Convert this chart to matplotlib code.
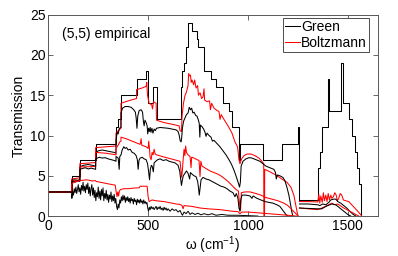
import matplotlib
matplotlib.use("Agg")
import matplotlib.pyplot as plt

plt.rcParams['font.family'] = ['Liberation Sans', 'DejaVu Sans']
plt.rcParams['mathtext.default'] = 'regular'

# ballistic Green transmission: step edges (cm^-1) and levels
green0_x = [0, 117, 158, 237, 339, 350, 364, 442, 490, 497, 525, 542, 667, 672, 680, 690, 700,
            718, 745, 748, 780, 815, 840, 875, 905, 920, 955, 962, 1075, 1172, 1250, 1255,
            1350, 1360, 1372, 1400, 1408, 1468, 1475, 1508, 1520, 1535, 1548, 1556, 1565, 1580]
green0_y = [3, 5, 7, 9, 11, 12, 15, 17, 18, 14, 16, 12, 16, 18, 19, 21, 24,
            23, 22, 21, 18, 17, 16, 14, 13, 11, 7, 9, 7, 9, 11, 2,
            6, 8, 11, 17, 13, 19, 14, 12, 10, 8, 6, 4, 0, 0]

# Boltzmann, shortest length
boltz1_x = [0, 117, 117, 158, 158, 237, 237, 290, 339, 339, 350, 364, 364, 400, 442, 442, 470, 490, 493,
            497, 505, 518, 522, 527, 540, 542, 580, 620, 655, 660, 667, 670, 677, 685, 692, 700, 703,
            708, 712, 716, 720, 728, 733, 740, 748, 752, 760, 768, 775, 780, 783, 795, 808, 812, 818,
            830, 845, 855, 860, 866, 875, 890, 905, 920, 935, 948, 955, 960, 968, 980, 995, 1015, 1035,
            1055, 1070, 1079, 1080, 1083, 1084, 1110, 1140, 1170, 1195, 1215, 1230, 1240, 1248, 1252]
boltz1_y = [3, 3, 4.6, 4.75, 6.5, 6.65, 8.5, 8.6, 8.7, 10.3, 10.6, 10.9, 14.0, 14.3, 14.6, 15.7, 15.9, 16.1, 16.6,
            15.0, 14.0, 13.8, 13.3, 14.2, 14.0, 11.9, 11.6, 11.4, 11.2, 10.6, 10.5, 12.4, 14.0, 15.0, 15.4, 16.2, 17.7,
            17.4, 17.5, 16.6, 16.9, 16.3, 16.9, 15.9, 16.2, 15.0, 15.3, 14.6, 14.8, 15.8, 14.4, 14.2, 14.3, 13.2, 14.0,
            13.4, 13.1, 13.0, 12.0, 12.6, 12.2, 11.6, 11.0, 10.3, 9.2, 8.6, 7.0, 6.5, 7.1, 7.5, 7.7, 7.7, 7.5,
            7.2, 6.8, 6.5, 0, 0, 5.8, 5.5, 5.1, 4.6, 4.2, 3.6, 2.6, 1.3, 0.3, 0]
boltz1_hx = [1258, 1300, 1350, 1355, 1360, 1365, 1372, 1378, 1383, 1390, 1396, 1402, 1408, 1415, 1420,
             1428, 1435, 1442, 1448, 1455, 1462, 1470, 1478, 1490, 1505, 1520, 1535, 1550, 1562, 1570]
boltz1_hy = [1.8, 1.8, 1.75, 2.7, 1.6, 2.5, 1.7, 2.9, 1.9, 2.6, 1.8, 2.8, 2.0, 2.6, 2.2,
             2.4, 2.9, 2.6, 1.9, 2.2, 2.8, 2.6, 2.0, 1.9, 1.8, 1.4, 1.0, 0.6, 0.25, 0]

# Green, shortest length
green1_x = [0, 117, 117, 130, 145, 158, 158, 175, 200, 220, 237, 237, 250, 270, 290, 310, 330, 339, 339,
            345, 350, 356, 364, 364, 372, 385, 400, 415, 428, 436, 440, 444, 448, 455, 465, 472, 476, 480,
            484, 490, 495, 498, 502, 506, 510, 514, 519, 524, 530, 536, 542, 560, 580, 600, 620, 640, 650,
            656, 660, 665, 668, 672, 678, 685, 692, 700, 706, 712, 718, 724, 730, 738, 745, 752, 756, 759,
            762, 770, 778, 785, 790, 795, 805, 815, 822, 830, 845, 860, 875, 890, 905, 918, 930, 940, 948,
            953, 958, 962, 966, 975, 990, 1005, 1020, 1040, 1060, 1075, 1090, 1110, 1130, 1138, 1142, 1147,
            1160, 1175, 1185, 1195, 1205, 1213, 1220, 1225]
green1_y = [3, 3, 4.4, 4.5, 4.45, 4.5, 6.1, 6.3, 6.4, 6.3, 6.2, 7.8, 8.1, 8.2, 8.1, 8.0, 7.9, 7.8, 9.4,
            10.4, 10.2, 10.9, 11.0, 12.8, 13.4, 13.6, 13.6, 13.5, 13.2, 12.9, 12.2, 10.9, 12.4, 13.1, 13.2, 12.9, 11.8, 11.2,
            11.9, 11.6, 11.2, 10.2, 10.9, 10.5, 11.0, 10.4, 10.9, 10.3, 10.8, 10.6, 10.9, 11.0, 10.95, 10.9, 10.8, 10.7, 10.5,
            10.0, 9.4, 9.2, 9.7, 11.0, 11.8, 12.2, 12.6, 12.8, 13.5, 13.2, 13.4, 12.8, 12.9, 12.5, 12.4, 11.9, 11.5, 9.8,
            11.3, 11.1, 10.8, 10.4, 9.9, 10.3, 10.0, 9.8, 9.3, 9.4, 9.0, 8.6, 8.1, 7.6, 7.0, 6.4, 5.7, 5.0, 4.4,
            4.0, 3.6, 4.2, 6.2, 6.8, 7.1, 7.25, 7.2, 7.0, 6.8, 6.5, 6.2, 6.0, 5.8, 5.4, 4.6, 5.1,
            5.0, 4.8, 4.4, 3.6, 2.6, 1.5, 0.5, 0]
green1_hx = [1258, 1300, 1350, 1360, 1375, 1390, 1405, 1415, 1428, 1440, 1450, 1465, 1480, 1495, 1510, 1525, 1540]
green1_hy = [1.5, 1.5, 1.4, 1.3, 1.5, 1.4, 1.7, 2.0, 2.1, 2.1, 1.8, 1.6, 1.3, 1.0, 0.6, 0.25, 0]

# Boltzmann, middle length
boltz2_x = [0, 117, 117, 158, 158, 237, 237, 290, 339, 339, 350, 358, 364, 364, 390, 420, 450, 460, 465,
            468, 490, 500, 503, 507, 510, 515, 520, 525, 530, 535, 542, 570, 600, 630, 660, 665, 668, 672,
            676, 680, 684, 688, 692, 700, 710, 715, 718, 730, 745, 755, 760, 764, 770, 790, 810, 830, 850,
            870, 885, 900, 920, 940, 952, 958, 963, 967, 985, 1010, 1040, 1065, 1090, 1120, 1150, 1180,
            1200, 1220, 1240, 1250]
boltz2_y = [3, 3, 4.35, 4.45, 6.1, 6.15, 7.9, 7.8, 7.6, 8.4, 8.8, 9.2, 9.3, 9.8, 9.6, 9.3, 9.0, 8.9, 9.6,
            8.8, 8.6, 8.4, 9.3, 8.3, 7.3, 7.0, 7.9, 7.6, 8.3, 7.7, 7.6, 7.4, 7.2, 7.0, 6.8, 5.5, 4.8, 5.8,
            7.2, 8.3, 7.5, 8.7, 7.9, 7.6, 7.4, 6.0, 7.3, 7.2, 7.0, 6.9, 4.9, 6.8, 6.2, 5.9, 5.6, 5.4, 5.2,
            4.9, 4.6, 4.3, 3.8, 3.3, 3.1, 1.5, 0.7, 2.9, 3.0, 3.0, 2.8, 2.6, 2.3, 2.1, 1.9, 1.6,
            1.3, 0.8, 0.3, 0]
boltz2_hx = [1258, 1300, 1350, 1380, 1420, 1435, 1450, 1480, 1510, 1540, 1555]
boltz2_hy = [1.0, 0.9, 0.8, 1.1, 1.6, 1.4, 1.5, 1.0, 0.6, 0.2, 0]

# Green, middle length
green2_x = [0, 117, 117, 125, 135, 145, 158, 158, 170, 185, 200, 215, 237, 237, 255, 270, 285, 300, 315,
            330, 339, 339, 350, 355, 358, 364, 370, 378, 385, 392, 400, 410, 420, 430, 440, 446, 450, 454,
            460, 470, 480, 490, 497, 502, 507, 511, 516, 520, 526, 530, 538, 548, 560, 575, 590, 605, 620,
            635, 650, 658, 663, 667, 671, 676, 684, 692, 700, 708, 712, 720, 730, 740, 748, 752, 756, 760,
            765, 775, 790, 805, 820, 835, 850, 865, 880, 895, 910, 925, 935, 942, 950, 955, 960, 964, 970,
            990, 1010, 1020, 1026, 1045, 1065, 1085, 1105, 1125, 1145, 1160, 1175, 1190, 1200]
green2_y = [3, 3, 4.2, 4.35, 4.2, 4.4, 4.3, 5.8, 5.9, 6.0, 5.85, 5.95, 5.8, 7.1, 7.3, 7.2, 7.25, 7.1, 7.0,
            6.9, 6.8, 7.4, 7.2, 5.8, 7.4, 7.6, 8.2, 8.6, 8.4, 8.5, 8.2, 8.3, 7.9, 7.8, 7.5, 7.0, 5.8, 6.9,
            7.2, 7.3, 7.1, 7.0, 6.5, 5.6, 4.5, 5.8, 6.3, 6.2, 5.5, 6.6, 6.8, 7.0, 7.1, 6.9, 7.0, 6.8, 6.7,
            6.6, 6.3, 5.6, 4.6, 3.8, 4.4, 5.0, 5.3, 5.6, 5.3, 4.6, 5.4, 5.2, 5.0, 4.9, 4.3, 3.6, 2.6, 3.4,
            4.5, 4.8, 4.6, 4.5, 4.3, 4.1, 3.9, 3.7, 3.6, 3.4, 3.1, 2.9, 2.4, 2.8, 2.2, 1.0, 0.6, 2.0, 2.6,
            2.6, 2.5, 2.2, 2.5, 2.2, 2.0, 1.8, 1.7, 1.6, 1.4, 1.2, 0.7, 0.2, 0]
green2_hx = [1258, 1300, 1350, 1370, 1390, 1420, 1440, 1460, 1480, 1500, 1515]
green2_hy = [1.0, 0.95, 0.9, 0.9, 1.2, 1.5, 1.4, 1.0, 0.6, 0.2, 0]

# Boltzmann, longest length
boltz3_x = [0, 117, 117, 130, 145, 158, 175, 190, 205, 220, 235, 240, 260, 280, 300, 320, 335, 340, 344,
            348, 352, 356, 362, 380, 400, 420, 440, 455, 460, 480, 495, 500, 505, 520, 540, 560, 580, 600,
            620, 640, 660, 670, 675, 680, 700, 720, 740, 760, 780, 800, 830, 860, 890, 920, 950, 960, 970,
            1000, 1050, 1100, 1150, 1200, 1240]
boltz3_y = [3, 3, 4.0, 4.2, 4.3, 4.4, 4.45, 4.5, 4.45, 4.35, 4.4, 4.3, 4.2, 4.1, 4.0, 3.9, 3.85, 3.0, 2.4,
            3.0, 2.5, 3.1, 3.3, 3.4, 3.4, 3.45, 3.5, 3.5, 3.7, 3.7, 3.7, 2.4, 1.8, 2.0, 1.9, 1.85, 1.8, 1.7,
            1.6, 1.5, 1.45, 1.3, 0.9, 1.3, 1.25, 1.2, 1.1, 1.0, 0.95, 0.9, 0.85, 0.8, 0.7, 0.6, 0.55, 0.3, 0.5,
            0.5, 0.4, 0.3, 0.2, 0.1, 0]

# Green, longest length
green3_x = [0, 117, 118, 122, 126, 130, 134, 138, 142, 146, 150, 154, 158, 162, 166, 170, 174, 178, 182,
            186, 190, 194, 198, 202, 206, 210, 214, 218, 222, 226, 230, 234, 238, 242, 246, 250, 254, 258,
            262, 266, 270, 274, 278, 282, 286, 290, 294, 298, 302, 306, 310, 314, 318, 322, 326, 330, 334,
            338, 342, 346, 350, 354, 358, 362, 366, 370, 374, 378, 382, 386, 390, 394, 398, 402, 406, 410,
            414, 418, 422, 426, 430, 434, 438, 442, 446, 450, 454, 458, 462, 466, 470, 474, 478, 482, 486,
            490, 494, 498, 502, 506, 510, 515, 520, 525, 530, 535, 540, 545, 550, 555, 560, 565, 570, 575,
            580, 585, 590, 595, 600, 610, 620, 630, 640, 650, 660, 667, 672, 680, 690, 700, 710, 720, 735,
            750, 765, 780, 800, 820, 840, 870, 900, 950, 1000, 1050]
green3_y = [3, 3, 2.2, 3.1, 2.6, 3.4, 2.9, 3.6, 2.8, 3.3, 3.9, 3.0, 3.5, 2.7, 3.8, 3.2, 4.2, 3.1, 3.7,
            2.9, 3.9, 3.3, 4.1, 2.8, 3.6, 2.5, 3.4, 3.9, 2.6, 3.5, 2.3, 3.2, 1.9, 2.9, 2.4, 3.6, 2.2, 3.1,
            2.0, 3.3, 2.5, 3.5, 1.9, 2.8, 2.2, 3.2, 2.0, 2.7, 1.7, 2.6, 2.1, 3.0, 1.8, 2.5, 1.9, 2.7, 1.6,
            2.2, 1.2, 0.8, 1.5, 1.0, 2.0, 1.6, 2.4, 1.9, 2.6, 2.0, 2.5, 1.7, 2.3, 1.9, 2.4, 1.8, 2.2, 1.6,
            2.3, 1.9, 2.1, 1.5, 2.2, 1.8, 2.0, 1.4, 2.1, 1.7, 2.0, 1.6, 2.1, 1.7, 1.9, 1.5, 2.0, 1.6, 1.8,
            1.5, 1.7, 1.0, 0.6, 1.1, 0.8, 1.2, 0.9, 1.1, 0.8, 1.0, 1.2, 0.8, 1.1, 0.9, 1.2, 0.8, 1.0, 0.7,
            1.1, 0.8, 1.0, 0.7, 0.9, 0.6, 0.9, 0.7, 0.8, 0.5, 0.7, 0.3, 0.1, 0.5, 0.3, 0.6, 0.2, 0.4, 0.2,
            0.35, 0.15, 0.3, 0.15, 0.3, 0.1, 0.2, 0.1, 0.1, 0.05, 0]

xticks = [0, 500, 1000, 1500]
yticks = [0, 5, 10, 15, 20, 25]

fig = plt.figure(figsize=(3.98, 2.56), dpi=100)
ax = fig.add_axes([0.1214, 0.156, 0.8276, 0.7866])

lw = 0.75
h_green, = ax.step(green0_x, green0_y, where='post', color='k', lw=lw, label='Green')
h_boltz, = ax.plot(boltz1_x, boltz1_y, color='r', lw=lw, label='Boltzmann')
ax.plot(boltz1_hx, boltz1_hy, color='r', lw=lw)
ax.plot(green1_x, green1_y, color='k', lw=lw)
ax.plot(green1_hx, green1_hy, color='k', lw=lw)
ax.plot(boltz2_x, boltz2_y, color='r', lw=lw)
ax.plot(boltz2_hx, boltz2_hy, color='r', lw=lw)
ax.plot(green2_x, green2_y, color='k', lw=lw)
ax.plot(green2_hx, green2_hy, color='k', lw=lw)
ax.plot(boltz3_x, boltz3_y, color='r', lw=lw)
ax.plot(green3_x, green3_y, color='k', lw=0.7)

ax.set_xlim(0, 1650)
ax.set_ylim(0, 25)
ax.set_xticks(xticks)
ax.set_yticks(yticks)
ax.tick_params(direction='in', top=True, right=True, length=3.5, width=0.6,
               labelsize=10, color='0.3', pad=2)
for s in ax.spines.values():
    s.set_linewidth(0.7)
    s.set_color('0.35')

ax.set_xlabel('ω (cm$^{-1}$)', fontsize=10, labelpad=1)
ax.set_ylabel('Transmission', fontsize=10, labelpad=3)
ax.text(67, 22.6, '(5,5) empirical', fontsize=10, va='center')

leg = ax.legend(handles=[h_green, h_boltz], loc='upper right', bbox_to_anchor=(0.974, 0.984),
                borderaxespad=0, fancybox=False, framealpha=1, edgecolor='0.3', fontsize=10,
                handlelength=1.1, handletextpad=0.1, borderpad=0.15, labelspacing=0.15)
leg.get_frame().set_linewidth(0.7)

fig.savefig('out.png', dpi=100)
